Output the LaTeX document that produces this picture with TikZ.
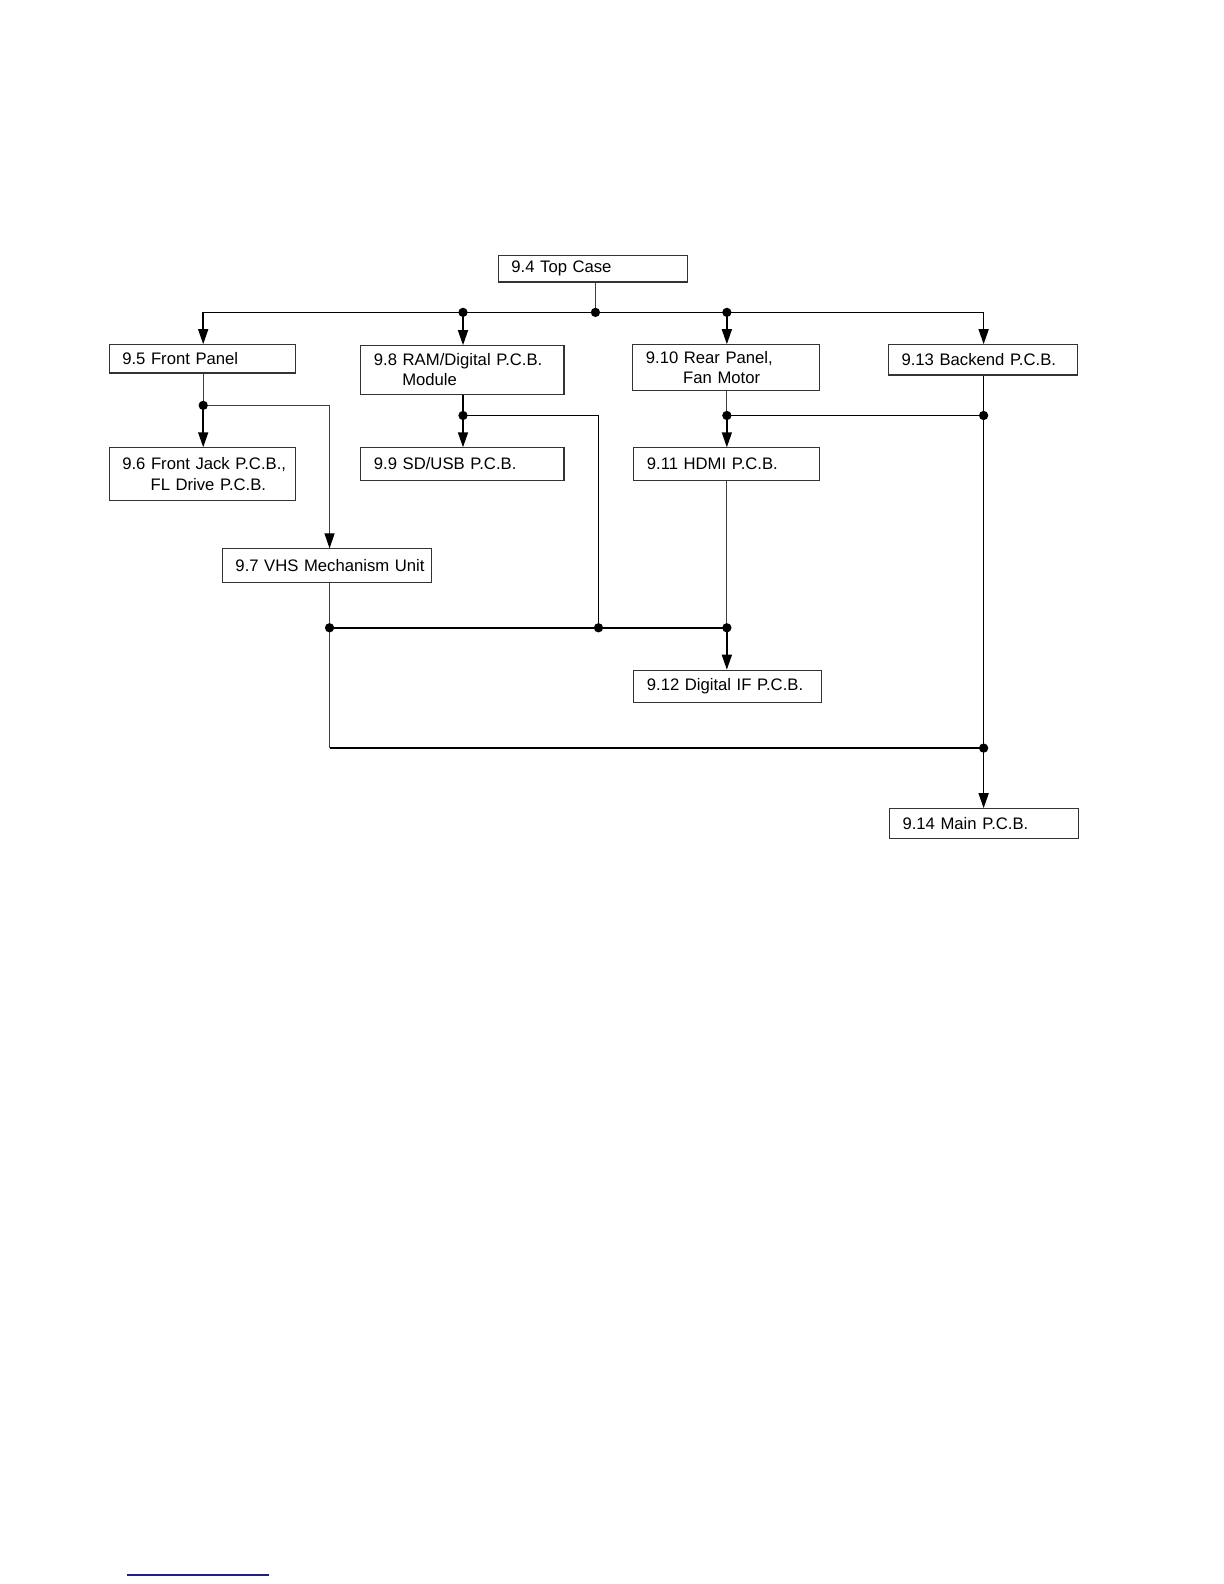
\documentclass[tikz,border=0pt]{standalone}
\usepackage{fontspec}
\setmainfont{Liberation Sans}
\usetikzlibrary{arrows.meta}
\definecolor{linkblue}{RGB}{30,30,140}
\begin{document}
\begin{tikzpicture}[x=0.5pt,y=-0.5pt,
  pbox/.style={draw=black!80, line width=0.55pt, rectangle, inner xsep=6.5pt, inner ysep=0pt,
    align=left, font=\fontsize{8.25pt}{10pt}\selectfont},
  wire/.style={line width=0.75pt},
  thin/.style={line width=0.5pt, draw=black!75},
  arr/.style={-{Triangle[length=7.5pt,width=5pt,color=black]}},
  dot/.style={circle, fill=black, inner sep=0pt, minimum size=4.6pt}]
\useasboundingbox (0,0) rectangle (1224,1584);

\begin{scope}[scale=1.0107, transform shape]
% boxes
\node[pbox, text width=80.5pt, minimum height=13pt] (top) at (586.5,266) {\mbox{9.4 Top Case}};
\node[pbox, text width=79pt, minimum height=14pt] (fp) at (200,355) {\mbox{9.5 Front Panel}};
\node[pbox, text width=87.5pt, minimum height=24pt] (ram) at (457.5,366) {\mbox{9.8 RAM/Digital P.C.B.}\\\mbox{\hspace*{14pt}Module}};
\node[pbox, text width=79.5pt, minimum height=22.5pt] (rear) at (718.5,363.5) {\mbox{9.10 Rear Panel,}\\\mbox{\hspace*{18.5pt}Fan Motor}};
\node[pbox, text width=80.5pt, minimum height=15pt] (back) at (972.5,356) {\mbox{9.13 Backend P.C.B.}};
\node[pbox, text width=79pt, minimum height=26pt] (fj) at (200,469) {\mbox{9.6 Front Jack P.C.B.,}\\\mbox{\hspace*{14pt}FL Drive P.C.B.}};
\node[pbox, text width=87.5pt, minimum height=16pt] (sd) at (457.5,459) {\mbox{9.9 SD/USB P.C.B.}};
\node[pbox, text width=79pt, minimum height=16pt] (hdmi) at (719,459) {\mbox{9.11 HDMI P.C.B.}};
\node[pbox, text width=90.5pt, minimum height=16.5pt] (vhs) at (323.5,559.5) {\mbox{9.7 VHS Mechanism Unit}};
\node[pbox, text width=80pt, minimum height=16pt] (dif) at (720,679) {\mbox{9.12 Digital IF P.C.B.}};
\node[pbox, text width=80.5pt, minimum height=15pt] (main) at (973.5,815) {\mbox{9.14 Main P.C.B.}};

% junction coordinates
\coordinate (b1) at (201,309);
\coordinate (b2) at (458,309);
\coordinate (b3) at (589,309);
\coordinate (b4) at (719,309);
\coordinate (b5) at (973,309);
\coordinate (f1) at (201,401);
\coordinate (f2) at (326,401);
\coordinate (r1) at (458,411);
\coordinate (r2) at (592,411);
\coordinate (r3) at (592,621);
\coordinate (q1) at (719,411);
\coordinate (q2) at (973,411);
\coordinate (h1) at (719,621);
\coordinate (v1) at (326,621);
\coordinate (v2) at (326,740);
\coordinate (m1) at (973,740);

% top bus
\draw[thin] (b3 |- top.south) -- (b3);
\draw[wire] (b1) -- (b5);
\draw[wire,arr] (b1) -- (b1 |- fp.north);
\draw[wire,arr] (b2) -- (b2 |- ram.north);
\draw[wire,arr] (b4) -- (b4 |- rear.north);
\draw[wire,arr] (b5) -- (b5 |- back.north);

% front panel branch
\draw[thin] (b1 |- fp.south) -- (f1);
\draw[wire,arr] (f1) -- (b1 |- fj.north);
\draw[thin] (f1) -- (f2);
\draw[thin,arr] (f2) -- (f2 |- vhs.north);

% RAM branch
\draw[wire] (b2 |- ram.south) -- (r1);
\draw[wire,arr] (r1) -- (b2 |- sd.north);
\draw[wire] (r1) -- (r2) -- (r3);

% rear branch
\draw[thin] (b4 |- rear.south) -- (q1);
\draw[wire,arr] (q1) -- (b4 |- hdmi.north);
\draw[wire] (q1) -- (q2);

% backend to main
\draw[wire] (b5 |- back.south) -- (m1);
\draw[wire,arr] (m1) -- (b5 |- main.north);

% HDMI to digital IF
\draw[thin] (b4 |- hdmi.south) -- (h1);
\draw[wire,arr] (h1) -- (b4 |- dif.north);

% VHS
\draw[thin] (f2 |- vhs.south) -- (v1);
\draw[thin] (v1) -- (v2);
\draw[wire] (v2) -- (m1);
\draw[wire] (v1) -- (h1);

% dots
\foreach \p in {b2,b3,b4,f1,r1,q1,q2,r3,h1,v1,m1} \node[dot] (d\p) at (\p) {};
\end{scope}

% bottom link underline
\draw[linkblue, line width=0.7pt] (127,1575) -- (269,1575);
\end{tikzpicture}
\end{document}
